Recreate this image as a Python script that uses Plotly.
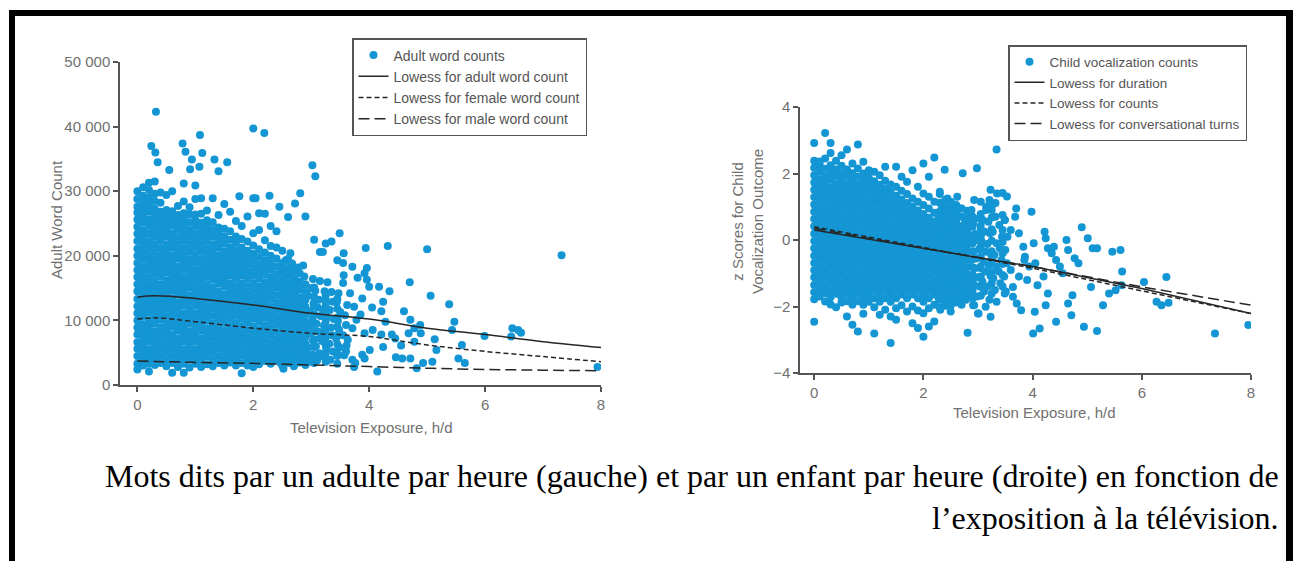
import plotly.graph_objects as go

W, H = 1293, 561

# ---------------- data: left panel (adult word counts, thousands) -------------
adult_core_columns = {
    0.00: [2.4, 3.3, 4.5, 5.6, 6.6, 7.8, 8.9, 10.0, 11.1, 12.2, 13.3, 14.5, 15.6, 16.7, 17.8, 18.9, 20.0, 21.1, 22.3, 23.4, 24.5, 25.6, 26.7, 27.6, 28.8, 30.0],
    0.10: [3.0, 3.9, 5.0, 6.1, 7.2, 8.3, 9.4, 10.6, 11.7, 12.8, 13.9, 15.0, 16.1, 17.2, 18.3, 19.5, 20.6, 21.7, 22.8, 23.9, 25.1, 26.2, 27.2, 28.3, 29.3, 30.6],
    0.20: [2.1, 3.3, 4.4, 5.5, 6.7, 7.8, 8.9, 10.0, 11.2, 12.3, 13.4, 14.5, 15.6, 16.7, 17.9, 19.0, 20.1, 21.2, 22.3, 23.5, 24.6, 25.6, 26.8, 27.9, 29.0, 30.2, 31.3],
    0.30: [3.1, 4.0, 5.0, 6.1, 7.2, 8.3, 9.5, 10.6, 11.7, 12.8, 13.9, 15.0, 16.1, 17.3, 18.4, 19.5, 20.6, 21.7, 22.9, 24.0, 25.1, 26.2, 27.3, 28.5, 29.6, 31.5],
    0.40: [3.4, 4.5, 5.6, 6.7, 7.8, 8.9, 10.1, 11.2, 12.3, 13.4, 14.5, 15.6, 16.8, 17.9, 19.0, 20.1, 21.2, 22.4, 23.5, 24.6, 25.7, 26.8, 28.2, 29.8],
    0.50: [2.9, 4.0, 5.1, 6.2, 7.3, 8.4, 9.5, 10.7, 11.8, 12.9, 14.0, 15.1, 16.2, 17.4, 18.5, 19.6, 20.7, 21.8, 23.0, 24.1, 25.2, 26.2, 27.1, 29.4],
    0.60: [1.9, 3.4, 4.5, 5.6, 6.7, 7.8, 9.0, 10.1, 11.2, 12.3, 13.4, 14.6, 15.7, 16.8, 17.9, 19.0, 20.1, 21.3, 22.4, 23.5, 24.7, 25.8, 26.9, 30.0],
    0.70: [2.8, 3.9, 5.0, 6.1, 7.2, 8.4, 9.5, 10.6, 11.7, 12.8, 14.0, 15.1, 16.2, 17.3, 18.4, 19.6, 20.7, 21.8, 22.9, 24.1, 25.2, 26.3, 27.7],
    0.80: [1.9, 3.3, 4.4, 5.5, 6.7, 7.8, 8.9, 10.0, 11.1, 12.3, 13.4, 14.5, 15.6, 16.7, 17.9, 19.0, 20.1, 21.2, 22.4, 23.5, 24.6, 25.6, 26.6, 28.4, 31.2],
    0.90: [2.7, 3.9, 5.0, 6.1, 7.2, 8.3, 9.5, 10.6, 11.7, 12.8, 13.9, 15.1, 16.2, 17.3, 18.4, 19.5, 20.7, 21.8, 22.9, 24.0, 25.2, 26.4, 27.5],
    1.00: [3.3, 4.4, 5.5, 6.7, 7.8, 8.9, 10.0, 11.1, 12.3, 13.4, 14.5, 15.6, 16.7, 17.8, 19.0, 20.1, 21.2, 22.3, 23.4, 24.6, 25.5, 26.4, 28.8, 30.9],
    1.10: [2.8, 3.9, 5.0, 6.1, 7.2, 8.4, 9.5, 10.6, 11.7, 12.8, 14.0, 15.1, 16.2, 17.3, 18.4, 19.5, 20.7, 21.8, 22.9, 24.0, 25.1, 26.5, 28.9],
    1.20: [3.2, 4.4, 5.5, 6.6, 7.7, 8.8, 10.0, 11.1, 12.2, 13.3, 14.4, 15.5, 16.7, 17.8, 18.9, 20.0, 21.1, 22.3, 23.4, 24.5, 25.5, 27.0],
    1.30: [2.9, 4.0, 5.1, 6.2, 7.3, 8.4, 9.5, 10.7, 11.8, 12.9, 14.0, 15.1, 16.3, 17.4, 18.5, 19.6, 20.7, 21.8, 23.0, 24.0, 25.2, 28.9],
    1.40: [3.4, 4.5, 5.6, 6.7, 7.8, 8.9, 10.1, 11.2, 12.3, 13.4, 14.5, 15.7, 16.8, 17.9, 19.0, 20.1, 21.3, 22.4, 23.5, 24.4, 26.3],
    1.50: [3.0, 4.0, 5.1, 6.2, 7.3, 8.4, 9.6, 10.7, 11.8, 12.9, 14.0, 15.2, 16.3, 17.4, 18.5, 19.6, 20.7, 21.9, 23.0, 24.2, 28.0],
    1.60: [3.5, 4.6, 5.7, 6.8, 7.9, 9.0, 10.2, 11.3, 12.4, 13.5, 14.6, 15.7, 16.9, 18.0, 19.1, 20.2, 21.3, 22.5, 23.8, 26.8],
    1.70: [3.0, 4.1, 5.2, 6.3, 7.4, 8.5, 9.6, 10.8, 11.9, 13.0, 14.1, 15.2, 16.4, 17.5, 18.6, 19.7, 20.8, 22.0, 23.0, 25.4],
    1.80: [1.8, 3.4, 4.6, 5.7, 6.8, 7.9, 9.0, 10.2, 11.3, 12.4, 13.5, 14.6, 15.7, 16.9, 18.0, 19.1, 20.2, 21.3, 22.6, 24.6],
    1.90: [3.0, 4.1, 5.2, 6.3, 7.4, 8.5, 9.7, 10.8, 11.9, 13.0, 14.1, 15.2, 16.4, 17.5, 18.6, 19.7, 20.8, 22.2, 26.1],
    2.00: [2.8, 3.6, 4.7, 5.8, 6.9, 8.0, 9.1, 10.3, 11.4, 12.5, 13.6, 14.7, 15.8, 17.0, 18.1, 19.2, 20.3, 21.6, 23.5, 28.9],
    2.10: [3.2, 4.2, 5.3, 6.4, 7.5, 8.6, 9.8, 10.9, 12.0, 13.1, 14.2, 15.3, 16.5, 17.6, 18.7, 19.8, 21.0, 24.0, 26.6],
    2.20: [3.7, 4.8, 5.9, 7.0, 8.1, 9.2, 10.4, 11.5, 12.6, 13.7, 14.8, 15.9, 17.1, 18.2, 19.3, 20.5, 22.4, 26.5],
    2.30: [3.3, 4.3, 5.4, 6.5, 7.7, 8.8, 9.9, 11.0, 12.1, 13.3, 14.4, 15.5, 16.6, 17.8, 18.9, 20.0, 21.5, 24.6],
    2.40: [3.8, 4.9, 6.0, 7.1, 8.2, 9.4, 10.5, 11.6, 12.7, 13.8, 15.0, 16.1, 17.2, 18.4, 19.6, 21.3, 23.8],
    2.50: [3.0, 4.1, 5.2, 6.3, 7.4, 8.6, 9.7, 10.8, 11.9, 13.0, 14.2, 15.3, 16.4, 17.6, 18.9, 20.8],
    2.60: [3.4, 4.6, 5.7, 6.8, 7.9, 9.1, 10.2, 11.3, 12.4, 13.6, 14.7, 15.8, 17.0, 18.1, 19.5],
    2.70: [2.9, 4.1, 5.2, 6.3, 7.4, 8.5, 9.7, 10.8, 11.9, 13.0, 14.2, 15.3, 16.5, 17.7],
    2.80: [3.5, 4.6, 5.7, 6.9, 8.0, 9.1, 10.2, 11.4, 12.5, 13.6, 14.8, 16.0, 17.3],
    2.90: [3.1, 4.2, 5.3, 6.4, 7.5, 8.7, 9.8, 10.9, 12.1, 13.2, 14.4, 15.6],
    3.05: [3.4, 4.6, 5.9, 7.1, 8.4, 9.6, 10.9, 12.2, 13.6, 15.1],
    3.25: [3.6, 4.9, 6.1, 7.4, 8.6, 9.9, 11.1, 12.4, 13.8],
    3.45: [3.3, 4.8, 6.3, 7.6, 9.0, 10.4, 11.8, 13.3],
}
# scattered points in the thinning zone and beyond (hours, thousands of words)
adult_outer_x = [2.52, 2.47, 2.55, 2.50, 2.58, 2.49, 2.56, 2.51, 2.57, 2.46, 2.53, 2.59, 2.48, 2.54, 2.50, 2.56,
                 2.63, 2.67, 2.61, 2.68, 2.64, 2.62, 2.69, 2.65, 2.60, 2.66, 2.63, 2.70, 2.62, 2.67, 2.64,
                 2.74, 2.78, 2.72, 2.77, 2.75, 2.79, 2.73, 2.76, 2.71, 2.78, 2.74, 2.80, 2.72, 2.77,
                 2.85, 2.88, 2.83, 2.90, 2.86, 2.82, 2.89, 2.84, 2.87, 2.91, 2.83, 2.88, 2.86,
                 2.97, 3.01, 2.95, 3.03, 2.99, 2.96, 3.02, 2.98, 3.04, 2.95, 3.00, 3.03,
                 3.10, 3.14, 3.08, 3.15, 3.12, 3.09, 3.16, 3.11, 3.13, 3.07, 3.15,
                 3.21, 3.26, 3.19, 3.24, 3.22, 3.27, 3.20, 3.25, 3.23, 3.28,
                 3.33, 3.38, 3.31, 3.36, 3.34, 3.39, 3.32, 3.37, 3.35,
                 3.45, 3.49, 3.43, 3.48, 3.46, 3.50, 3.44, 3.47,
                 3.57, 3.61, 3.55, 3.60, 3.58, 3.62,
                 0.32, 2.00, 2.19, 1.08, 0.24, 0.78, 0.31, 0.83, 1.12, 1.33, 1.55, 0.35, 0.94, 3.02, 3.07,
                 0.55, 0.91, 1.40, 1.07, 7.32, 5.00, 4.32, 3.94, 3.49, 3.35, 2.81, 2.72, 2.90, 2.28, 2.04,
                 1.76, 4.70, 5.06, 5.38, 5.99, 6.45, 6.47, 6.57, 6.62, 7.94, 5.47, 5.43, 5.60, 5.65, 5.54,
                 5.16, 5.13, 5.09, 4.93, 4.82, 4.57, 4.46, 4.71, 4.60, 4.71, 4.78, 4.88, 4.68, 4.89, 4.78,
                 4.39, 4.14, 4.35, 4.17, 4.24, 4.21, 4.28, 4.06, 3.92, 4.21, 4.24, 4.01, 3.92, 3.88, 3.74,
                 3.76, 3.96, 3.92, 3.96, 4.00, 3.88, 3.71, 3.56, 3.55, 3.56, 3.55, 3.67, 3.74, 3.78, 3.85,
                 3.71, 3.63, 3.60, 3.71, 3.25, 3.15, 3.45, 3.80, 4.05, 4.45, 4.55, 2.45, 2.60, 3.20, 3.05]
adult_outer_y = [2.5, 3.4, 4.4, 5.5, 6.6, 7.8, 8.9, 10.0, 11.1, 12.3, 13.4, 14.5, 15.6, 16.8, 18.0, 19.3,
                 3.9, 5.0, 6.1, 7.2, 8.3, 9.5, 10.6, 11.7, 12.9, 14.0, 15.1, 16.3, 17.5, 18.8, 20.4,
                 3.5, 4.5, 5.6, 6.7, 7.9, 9.0, 10.1, 11.3, 12.4, 13.5, 14.7, 15.8, 17.0, 18.2,
                 4.0, 5.1, 6.2, 7.4, 8.5, 9.6, 10.8, 11.9, 13.0, 14.3, 15.5, 16.8, 18.5,
                 3.6, 4.7, 5.8, 6.9, 8.0, 9.2, 10.3, 11.4, 12.6, 13.8, 15.0, 16.4,
                 3.8, 4.9, 6.0, 7.2, 8.3, 9.5, 10.7, 12.0, 13.2, 14.6, 16.1,
                 4.4, 5.6, 6.8, 8.0, 9.2, 10.5, 11.7, 13.1, 14.5, 15.9,
                 3.9, 5.2, 6.4, 7.7, 8.9, 10.2, 11.6, 12.9, 14.4,
                 4.5, 5.8, 7.2, 8.5, 9.9, 11.3, 12.8, 14.2,
                 4.6, 6.1, 7.7, 9.3, 10.8, 12.4,
                 42.3, 39.7, 39.0, 38.7, 37.0, 37.4, 36.0, 36.1, 35.9, 34.9, 34.5, 34.5, 34.9, 34.0, 32.3,
                 33.3, 33.4, 33.1, 33.8, 20.1, 21.0, 21.5, 21.2, 23.5, 22.2, 29.7, 28.1, 26.1, 29.3, 28.9,
                 29.2, 15.9, 13.8, 12.5, 7.6, 7.5, 8.8, 8.5, 8.1, 2.8, 9.8, 8.5, 6.2, 3.4, 4.1,
                 5.4, 7.1, 3.6, 3.4, 2.6, 4.1, 4.3, 4.1, 11.4, 10.1, 8.8, 9.3, 8.0, 8.0, 6.7,
                 7.8, 2.1, 14.5, 15.2, 12.9, 11.4, 9.8, 8.5, 8.0, 7.8, 5.9, 5.4, 4.1, 4.7, 2.8,
                 3.4, 18.1, 17.3, 16.3, 15.2, 13.4, 18.3, 20.4, 18.9, 17.0, 15.8, 14.2, 12.1, 10.1, 10.9,
                 8.8, 7.0, 5.2, 3.9, 21.9, 20.6, 19.3, 16.6, 12.0, 7.2, 6.1, 27.6, 26.0, 20.6, 22.5]

lowess_x_left = [0, 0.3, 1, 2, 3, 4, 5, 6, 7, 8]
lowess_adult = [13.6, 13.8, 13.4, 12.4, 11.1, 10.2, 8.8, 7.8, 6.7, 5.8]
lowess_female = [10.2, 10.4, 9.8, 8.8, 8.0, 7.5, 6.2, 5.2, 4.4, 3.6]
lowess_male = [3.7, 3.65, 3.5, 3.35, 3.1, 2.85, 2.6, 2.4, 2.3, 2.2]

left_yticks = [0, 10000, 20000, 30000, 40000, 50000]
left_yticklabels = ["0", "10 000", "20 000", "30 000", "40 000", "50 000"]
xticks = [0, 2, 4, 6, 8]

# ---------------- data: right panel (child vocalization z scores) -------------
child_core_columns = {
    0.00: [-2.46, -1.78, -1.57, -1.35, -1.12, -0.91, -0.69, -0.47, -0.25, -0.03, 0.19, 0.41, 0.63, 0.85, 1.07, 1.29, 1.51, 1.73, 1.95, 2.17, 2.38, 2.92],
    0.10: [-1.70, -1.47, -1.25, -1.03, -0.81, -0.59, -0.37, -0.15, 0.07, 0.29, 0.51, 0.73, 0.95, 1.17, 1.39, 1.61, 1.83, 2.05, 2.27, 2.36],
    0.20: [-1.85, -1.60, -1.38, -1.16, -0.94, -0.72, -0.50, -0.28, -0.06, 0.16, 0.38, 0.60, 0.82, 1.04, 1.26, 1.48, 1.70, 1.92, 2.14, 2.45, 3.22],
    0.30: [-1.94, -1.72, -1.50, -1.27, -1.05, -0.83, -0.61, -0.39, -0.17, 0.05, 0.27, 0.49, 0.71, 0.93, 1.15, 1.37, 1.59, 1.81, 2.03, 2.25, 2.62, 2.92],
    0.40: [-2.02, -1.62, -1.40, -1.18, -0.96, -0.74, -0.52, -0.30, -0.08, 0.14, 0.36, 0.58, 0.80, 1.02, 1.24, 1.46, 1.68, 1.90, 2.12, 2.38],
    0.50: [-1.88, -1.73, -1.51, -1.29, -1.07, -0.85, -0.63, -0.41, -0.19, 0.03, 0.25, 0.47, 0.69, 0.91, 1.13, 1.35, 1.57, 1.79, 2.01, 2.23, 2.55],
    0.60: [-2.30, -1.84, -1.62, -1.40, -1.18, -0.96, -0.74, -0.52, -0.30, -0.08, 0.14, 0.36, 0.58, 0.80, 1.02, 1.24, 1.46, 1.68, 1.90, 2.12, 2.72],
    0.70: [-2.55, -1.95, -1.73, -1.51, -1.29, -1.07, -0.85, -0.63, -0.41, -0.19, 0.03, 0.25, 0.47, 0.69, 0.91, 1.13, 1.35, 1.57, 1.79, 2.01, 2.30],
    0.80: [-2.75, -1.84, -1.62, -1.40, -1.18, -0.96, -0.74, -0.52, -0.30, -0.08, 0.14, 0.36, 0.58, 0.80, 1.02, 1.24, 1.46, 1.68, 1.90, 2.15, 2.87],
    0.90: [-2.22, -1.95, -1.73, -1.51, -1.29, -1.07, -0.85, -0.63, -0.41, -0.19, 0.03, 0.25, 0.47, 0.69, 0.91, 1.13, 1.35, 1.57, 1.79, 2.00, 2.35],
    1.00: [-1.86, -1.64, -1.42, -1.20, -0.98, -0.76, -0.54, -0.32, -0.10, 0.12, 0.34, 0.56, 0.78, 1.00, 1.22, 1.44, 1.66, 1.88, 2.10],
    1.10: [-2.81, -2.02, -1.75, -1.53, -1.31, -1.09, -0.87, -0.65, -0.43, -0.21, 0.01, 0.23, 0.45, 0.67, 0.89, 1.11, 1.33, 1.55, 1.77, 2.05],
    1.20: [-2.25, -1.86, -1.64, -1.42, -1.20, -0.98, -0.76, -0.54, -0.32, -0.10, 0.12, 0.34, 0.56, 0.78, 1.00, 1.22, 1.44, 1.66, 1.95],
    1.30: [-2.10, -1.75, -1.53, -1.31, -1.09, -0.87, -0.65, -0.43, -0.21, 0.01, 0.23, 0.45, 0.67, 0.89, 1.11, 1.33, 1.55, 1.78, 2.20],
    1.40: [-3.10, -2.30, -1.86, -1.64, -1.42, -1.20, -0.98, -0.76, -0.54, -0.32, -0.10, 0.12, 0.34, 0.56, 0.78, 1.00, 1.22, 1.44, 1.67],
    1.50: [-2.40, -2.05, -1.75, -1.53, -1.31, -1.09, -0.87, -0.65, -0.43, -0.21, 0.01, 0.23, 0.45, 0.67, 0.89, 1.11, 1.33, 1.60, 2.20],
    1.60: [-1.96, -1.64, -1.42, -1.20, -0.98, -0.76, -0.54, -0.32, -0.10, 0.12, 0.34, 0.56, 0.78, 1.00, 1.22, 1.48, 1.90],
    1.70: [-2.15, -1.75, -1.53, -1.31, -1.09, -0.87, -0.65, -0.43, -0.21, 0.01, 0.23, 0.45, 0.67, 0.89, 1.11, 1.38, 1.75],
    1.80: [-2.50, -2.00, -1.64, -1.42, -1.20, -0.98, -0.76, -0.54, -0.32, -0.10, 0.12, 0.34, 0.56, 0.78, 1.00, 1.25, 2.10],
    1.90: [-2.65, -2.12, -1.75, -1.53, -1.31, -1.09, -0.87, -0.65, -0.43, -0.21, 0.01, 0.23, 0.45, 0.67, 0.89, 1.15, 1.60],
    2.00: [-2.91, -2.20, -1.86, -1.64, -1.42, -1.20, -0.98, -0.76, -0.54, -0.32, -0.10, 0.12, 0.34, 0.56, 0.78, 1.05, 1.40, 2.30],
    2.10: [-2.60, -2.05, -1.75, -1.53, -1.31, -1.09, -0.87, -0.65, -0.43, -0.21, 0.01, 0.23, 0.45, 0.67, 0.95, 1.30, 1.90],
    2.20: [-2.45, -1.95, -1.64, -1.42, -1.20, -0.98, -0.76, -0.54, -0.32, -0.10, 0.12, 0.34, 0.56, 0.82, 1.15, 2.48],
    2.30: [-2.02, -1.80, -1.58, -1.36, -1.14, -0.92, -0.70, -0.48, -0.26, -0.04, 0.18, 0.40, 0.62, 0.86, 1.12, 1.38],
    2.40: [-1.90, -1.69, -1.47, -1.25, -1.03, -0.81, -0.59, -0.37, -0.15, 0.07, 0.29, 0.51, 0.74, 0.98, 1.20],
    2.50: [-1.98, -1.80, -1.58, -1.36, -1.14, -0.92, -0.70, -0.48, -0.26, -0.04, 0.18, 0.40, 0.64, 0.90, 1.15],
    2.60: [-1.88, -1.69, -1.47, -1.25, -1.03, -0.81, -0.59, -0.37, -0.15, 0.07, 0.29, 0.53, 0.80, 1.05],
    2.70: [-1.80, -1.58, -1.36, -1.14, -0.92, -0.70, -0.48, -0.26, -0.04, 0.18, 0.42, 0.70, 0.95],
    2.80: [-1.72, -1.47, -1.25, -1.03, -0.81, -0.59, -0.37, -0.15, 0.07, 0.30, 0.58, 0.88],
    2.90: [-1.75, -1.52, -1.28, -1.05, -0.82, -0.58, -0.34, -0.10, 0.14, 0.40, 0.70],
    3.05: [-1.68, -1.40, -1.10, -0.80, -0.50, -0.20, 0.10, 0.42, 0.78, 1.15],
    3.25: [-1.62, -1.30, -0.98, -0.66, -0.34, -0.02, 0.32, 0.68, 1.02],
    3.45: [-1.40, -1.05, -0.72, -0.40, -0.06, 0.30, 0.75],
}
child_outer_x = [2.31, 2.28, 2.33, 2.29, 2.34, 2.30, 2.27, 2.32, 2.35, 2.29, 2.31, 2.33, 2.28, 2.34, 2.30,
                 2.41, 2.38, 2.43, 2.40, 2.44, 2.37, 2.42, 2.39, 2.45, 2.41, 2.38, 2.43, 2.40, 2.44, 2.39,
                 2.50, 2.53, 2.48, 2.54, 2.51, 2.47, 2.55, 2.52, 2.49, 2.53, 2.50, 2.56, 2.48, 2.52,
                 2.61, 2.58, 2.63, 2.60, 2.64, 2.57, 2.62, 2.59, 2.65, 2.61, 2.58, 2.63, 2.60, 2.62,
                 2.70, 2.73, 2.68, 2.74, 2.71, 2.67, 2.75, 2.72, 2.69, 2.73, 2.70, 2.76, 2.68, 2.72,
                 2.81, 2.78, 2.83, 2.80, 2.84, 2.77, 2.82, 2.79, 2.85, 2.81, 2.78, 2.83,
                 2.91, 2.88, 2.93, 2.90, 2.94, 2.87, 2.92, 2.89, 2.95, 2.91, 2.88, 2.93,
                 3.01, 2.98, 3.03, 3.00, 3.04, 2.97, 3.02, 2.99, 3.05, 3.01, 2.98,
                 3.11, 3.08, 3.13, 3.10, 3.14, 3.07, 3.12, 3.09, 3.15,
                 3.21, 3.18, 3.23, 3.20, 3.24, 3.17, 3.22, 3.19, 3.25, 3.21,
                 3.31, 3.28, 3.33, 3.30, 3.34, 3.27, 3.32, 3.29, 3.35,
                 3.41, 3.38, 3.43, 3.40, 3.44, 3.39,
                 3.51, 3.48, 3.53, 3.50, 3.54, 3.49,
                 3.34, 4.01, 4.13, 4.43, 4.94, 5.18, 7.34, 7.95, 6.45, 6.27, 6.36, 6.49, 5.61, 5.46, 4.90,
                 5.01, 5.10, 5.18, 5.64, 5.07, 5.29, 5.40, 5.52, 5.63, 6.04, 4.73, 4.65, 4.71, 4.84, 4.77,
                 4.65, 4.62, 4.50, 4.43, 4.22, 4.24, 4.28, 4.39, 3.98, 4.02, 4.05, 4.09, 4.20, 4.28, 4.24,
                 4.04, 3.79, 3.71, 3.64, 3.70, 3.68, 3.53, 3.45, 3.23, 3.32, 3.15, 3.49, 3.60, 3.75, 3.83,
                 3.86, 3.94, 3.75, 3.64, 3.49, 3.34, 3.23, 3.14, 3.00, 2.93, 3.60, 3.90, 4.55, 4.35, 3.85]
child_outer_y = [-2.10, -1.75, -1.53, -1.31, -1.09, -0.87, -0.65, -0.43, -0.21, 0.01, 0.23, 0.45, 0.70, 1.00, 1.45,
                 -1.98, -1.64, -1.42, -1.20, -0.98, -0.76, -0.54, -0.32, -0.10, 0.12, 0.34, 0.60, 0.90, 1.25, 2.11,
                 -2.15, -1.75, -1.53, -1.31, -1.09, -0.87, -0.65, -0.43, -0.21, 0.01, 0.25, 0.50, 0.80, 1.10,
                 -1.85, -1.60, -1.38, -1.16, -0.94, -0.72, -0.50, -0.28, -0.06, 0.16, 0.40, 0.70, 1.00, 1.30,
                 -1.95, -1.70, -1.45, -1.22, -1.00, -0.78, -0.56, -0.34, -0.12, 0.10, 0.35, 0.62, 0.95, 2.01,
                 -2.79, -1.80, -1.55, -1.30, -1.06, -0.82, -0.58, -0.34, -0.10, 0.15, 0.45, 0.80,
                 -1.96, -1.62, -1.35, -1.10, -0.85, -0.60, -0.35, -0.10, 0.18, 0.50, 0.90, 1.20,
                 -2.21, -1.70, -1.40, -1.12, -0.84, -0.56, -0.28, 0.00, 0.30, 0.65, 2.16,
                 -1.55, -1.25, -0.95, -0.65, -0.35, -0.05, 0.25, 0.60, 1.00,
                 -1.80, -1.40, -1.08, -0.76, -0.44, -0.12, 0.20, 0.55, 0.90, 1.20,
                 -1.50, -1.15, -0.80, -0.45, -0.10, 0.25, 0.70, 1.10, 1.40,
                 -1.30, -0.95, -0.60, -0.25, 0.10, 0.45,
                 -1.55, -1.10, -0.70, -0.30, 0.10, 0.60,
                 2.72, -2.81, -2.66, -2.46, -2.61, -2.74, -2.81, -2.56, -1.11, -1.86, -1.96, -1.89, -0.30, -0.35, 0.38,
                 0.05, -0.25, -0.25, -0.95, -1.41, -1.96, -1.61, -1.51, -1.36, -1.26, -1.66, -1.91, -2.26, -0.70, -0.55,
                 -0.30, 0.00, -0.80, -0.60, 0.25, 0.05, -0.25, -0.20, 0.85, -0.10, -0.70, -1.36, -1.10, -1.61, -1.96,
                 -2.16, -2.11, -1.91, -1.71, 0.95, 0.70, 1.31, 1.41, 1.51, 1.11, 0.90, 0.60, 0.30, 0.20, -0.20,
                 -0.50, -0.80, -1.10, -1.41, -1.61, -1.86, -2.31, -2.01, -2.21, -1.96, -0.90, -1.20, -1.00, -0.40, -0.60]

lowess_x_right = [0, 2, 4, 6, 8]
lowess_duration = [0.30, -0.25, -0.80, -1.46, -2.21]
lowess_counts = [0.40, -0.22, -0.85, -1.53, -2.21]
lowess_turns = [0.35, -0.25, -0.80, -1.41, -1.96]
right_yticks = [-4, -2, 0, 2, 4]

caption_line1 = "Mots dits par un adulte par heure (gauche) et par un enfant par heure (droite) en fonction de"
caption_line2 = "l\u2019exposition à la télévision."

# ---------------- build ----------------
def flatten(cols):
    xs, ys = [], []
    for cx, vals in cols.items():
        for v in vals:
            xs.append(cx)
            ys.append(v)
    return xs, ys

ax_core, ay_core = flatten(adult_core_columns)
adult_x = ax_core + adult_outer_x
adult_y = [v * 1000 for v in ay_core + adult_outer_y]
cx_core, cy_core = flatten(child_core_columns)
child_x = cx_core + child_outer_x
child_y = cy_core + child_outer_y

BLUE = "#1396d3"
LINE = "#262626"
FONT = "Liberation Sans, Arial, sans-serif"
GREY = "#707070"

def px(x):
    return x / W

def py(y):
    return 1 - y / H

fig = go.Figure()
fig.add_trace(go.Scatter(x=adult_x, y=adult_y, mode="markers", name="Adult word counts",
                         marker=dict(size=8, color=BLUE), xaxis="x", yaxis="y", legend="legend"))
fig.add_trace(go.Scatter(x=lowess_x_left, y=[v * 1000 for v in lowess_adult], mode="lines",
                         name="Lowess for adult word count", line=dict(color=LINE, width=1.5, shape="spline"),
                         xaxis="x", yaxis="y", legend="legend"))
fig.add_trace(go.Scatter(x=lowess_x_left, y=[v * 1000 for v in lowess_female], mode="lines",
                         name="Lowess for female word count",
                         line=dict(color=LINE, width=1.5, dash="5px,3px", shape="spline"),
                         xaxis="x", yaxis="y", legend="legend"))
fig.add_trace(go.Scatter(x=lowess_x_left, y=[v * 1000 for v in lowess_male], mode="lines",
                         name="Lowess for male word count",
                         line=dict(color=LINE, width=1.5, dash="11px,5px", shape="spline"),
                         xaxis="x", yaxis="y", legend="legend"))

fig.add_trace(go.Scatter(x=child_x, y=child_y, mode="markers", name="Child vocalization counts",
                         marker=dict(size=8, color=BLUE), xaxis="x2", yaxis="y2", legend="legend2"))
fig.add_trace(go.Scatter(x=lowess_x_right, y=lowess_duration, mode="lines", name="Lowess for duration",
                         line=dict(color=LINE, width=1.5), xaxis="x2", yaxis="y2", legend="legend2"))
fig.add_trace(go.Scatter(x=lowess_x_right, y=lowess_counts, mode="lines", name="Lowess for counts",
                         line=dict(color=LINE, width=1.5, dash="5px,3px"), xaxis="x2", yaxis="y2", legend="legend2"))
fig.add_trace(go.Scatter(x=lowess_x_right, y=lowess_turns, mode="lines", name="Lowess for conversational turns",
                         line=dict(color=LINE, width=1.5, dash="11px,5px"), xaxis="x2", yaxis="y2", legend="legend2"))

axis_common = dict(showgrid=False, zeroline=False, showline=True, linecolor="#555", linewidth=1.5,
                   ticks="outside", ticklen=5, tickcolor="#555", tickwidth=1.5, automargin=False,
                   tickfont=dict(family=FONT, size=15, color=GREY))

fig.update_layout(
    width=W, height=H, autosize=False,
    margin=dict(l=0, r=0, t=0, b=0, pad=0, autoexpand=False),
    paper_bgcolor="white", plot_bgcolor="white",
    xaxis=dict(domain=[px(120), px(601)], range=[-0.3, 8.0], tickvals=xticks, anchor="y", **axis_common),
    yaxis=dict(domain=[py(385), py(62)], range=[0, 50000], tickvals=left_yticks,
               ticktext=left_yticklabels, anchor="x", **axis_common),
    xaxis2=dict(domain=[px(800), px(1251)], range=[-0.26, 8.0], tickvals=xticks, anchor="y2", **axis_common),
    yaxis2=dict(domain=[py(373), py(107)], range=[-4, 4], tickvals=right_yticks, anchor="x2", **axis_common),
    legend=dict(x=px(352), y=py(38), xanchor="left", yanchor="top", bgcolor="white",
                bordercolor="#555", borderwidth=1.5, font=dict(family=FONT, size=14, color="#555"),
                tracegroupgap=0, itemwidth=30),
    legend2=dict(x=px(1008), y=py(45), xanchor="left", yanchor="top", bgcolor="white",
                 bordercolor="#555", borderwidth=1.5, font=dict(family=FONT, size=13.5, color="#555"),
                 tracegroupgap=0, itemwidth=30),
    showlegend=True,
)

ann_font = dict(family=FONT, size=15, color=GREY)
serif = dict(family="Liberation Serif, Times New Roman, serif", size=32, color="black")
annotations = [
    dict(text="Adult Word Count", x=px(57), y=py(220), xref="paper", yref="paper", showarrow=False,
         textangle=-90, font=ann_font, xanchor="center", yanchor="middle"),
    dict(text="Television Exposure, h/d", x=px(371), y=py(427), xref="paper", yref="paper", showarrow=False,
         font=ann_font, xanchor="center", yanchor="middle"),
    dict(text="z Scores for Child<br>Vocalization Outcome", x=px(747), y=py(222), xref="paper", yref="paper",
         showarrow=False, textangle=-90, font=ann_font, xanchor="center", yanchor="middle"),
    dict(text="Television Exposure, h/d", x=px(1034), y=py(412), xref="paper", yref="paper", showarrow=False,
         font=ann_font, xanchor="center", yanchor="middle"),
    dict(text=caption_line1, x=px(1281), y=py(476), xref="paper", yref="paper", showarrow=False,
         font=serif, xanchor="right", yanchor="middle"),
    dict(text=caption_line2, x=px(1281), y=py(518), xref="paper", yref="paper", showarrow=False,
         font=serif, xanchor="right", yanchor="middle"),
]
fig.update_layout(annotations=annotations)

shapes = [
    dict(type="rect", xref="paper", yref="paper", x0=px(9), x1=px(1293), y0=py(16), y1=py(10),
         fillcolor="black", line=dict(width=0), layer="above"),
    dict(type="rect", xref="paper", yref="paper", x0=px(9), x1=px(15), y0=py(561), y1=py(10),
         fillcolor="black", line=dict(width=0), layer="above"),
    dict(type="rect", xref="paper", yref="paper", x0=px(1286), x1=px(1293), y0=py(561), y1=py(10),
         fillcolor="black", line=dict(width=0), layer="above"),
]
fig.update_layout(shapes=shapes)

post = (
    "document.documentElement.style.margin='0';"
    "document.body.style.margin='0';"
    "document.body.style.padding='0';"
    "document.body.style.overflow='hidden';"
    "var gd=document.getElementById('{plot_id}');"
    "Plotly.relayout(gd,{width:1293,height:561});"
)
fig.write_html("out.html", config={"displayModeBar": False, "responsive": False}, post_script=post)
